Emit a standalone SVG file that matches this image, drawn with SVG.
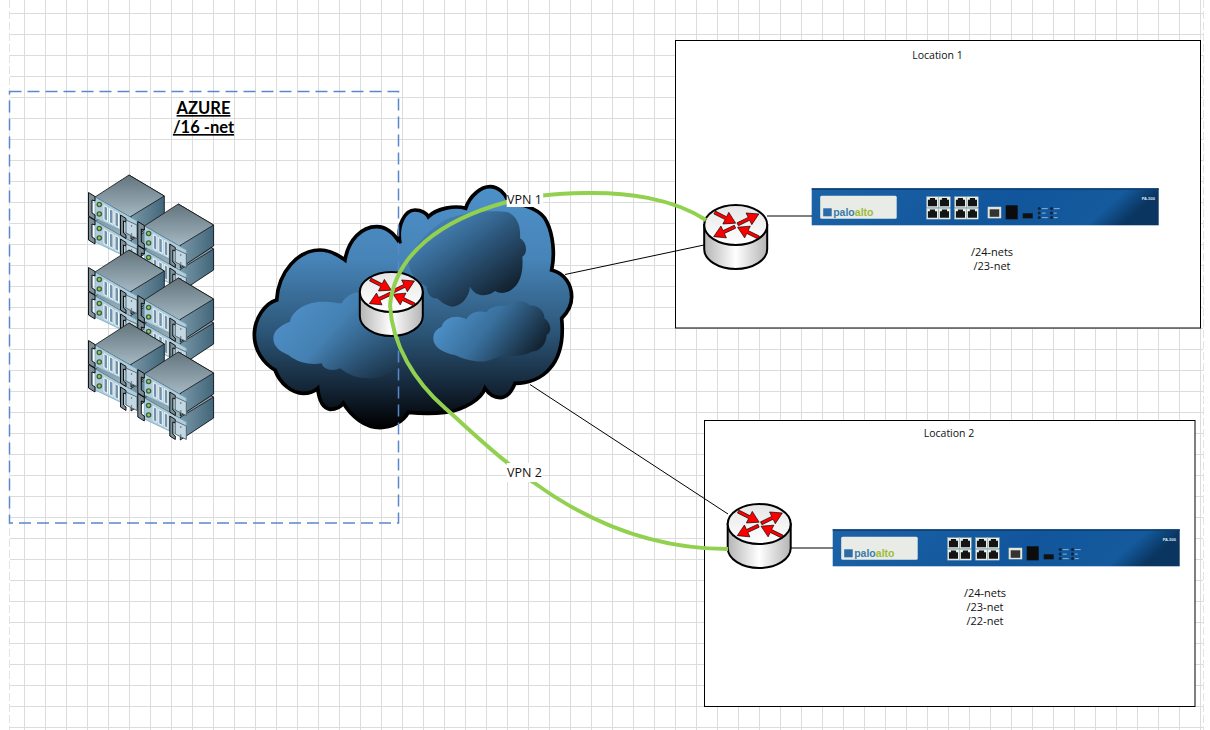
<svg xmlns="http://www.w3.org/2000/svg" xmlns:xlink="http://www.w3.org/1999/xlink" width="1210" height="730" viewBox="0 0 1210 730">
<style>
.t{font-family:"Open Sans","Noto Sans",sans-serif;fill:#111}
.box{fill:#fff;stroke:#000;stroke-width:1}
.conn{fill:none;stroke:#000;stroke-width:1}
.vpn{fill:none;stroke:#92d050;stroke-width:4}
.arrow{fill:#f00;stroke:#000;stroke-width:.6}
.az{font-family:Lato,"Liberation Sans",sans-serif;font-weight:700;font-size:16.500px;text-decoration:underline;fill:#000;text-anchor:middle}
.mid{text-anchor:middle}
</style>
<defs>
<pattern id="gv" patternUnits="userSpaceOnUse" x="24" y="0" width="21" height="21"><rect x="0" y="0" width="1" height="21" fill="#dcdcdc"/></pattern>
<pattern id="gh" patternUnits="userSpaceOnUse" x="0" y="13" width="21" height="21"><rect x="0" y="0" width="21" height="1" fill="#dcdcdc"/></pattern>
<linearGradient id="cloudG" x1="0" y1="0" x2="0" y2="1"><stop offset="0" stop-color="#4d90c8"/><stop offset=".3" stop-color="#4784b8"/><stop offset=".6" stop-color="#2c5678"/><stop offset=".82" stop-color="#16293c"/><stop offset="1" stop-color="#000"/></linearGradient>
<linearGradient id="c1" x1="0" y1=".3" x2="1" y2=".9"><stop offset="0" stop-color="#4f90c8"/><stop offset=".4" stop-color="#4480b2"/><stop offset="1" stop-color="#2c5678" stop-opacity="0"/></linearGradient>
<linearGradient id="c2" x1=".1" y1=".1" x2=".85" y2=".95"><stop offset="0" stop-color="#4784b8" stop-opacity=".6"/><stop offset=".45" stop-color="#2e5a80"/><stop offset="1" stop-color="#0e1822"/></linearGradient>
<linearGradient id="c3" x1="0" y1=".3" x2="1" y2=".7"><stop offset="0" stop-color="#5095cf"/><stop offset=".45" stop-color="#39709d"/><stop offset="1" stop-color="#0e1a26"/></linearGradient>
<linearGradient id="rSide" x1="0" y1="0" x2="1" y2="0"><stop offset="0" stop-color="#b4b4b4"/><stop offset=".5" stop-color="#fff"/><stop offset="1" stop-color="#b4b4b4"/></linearGradient>
<linearGradient id="rTop" x1="0" y1="0" x2="0" y2="1"><stop offset="0" stop-color="#e6e6e6"/><stop offset="1" stop-color="#fff"/></linearGradient>
<linearGradient id="sTop" x1="0" y1="0" x2="0" y2="1"><stop offset="0" stop-color="#63747c"/><stop offset="1" stop-color="#a5b9c4"/></linearGradient>
<linearGradient id="sSide" x1="0" y1="0" x2="1" y2="0"><stop offset="0" stop-color="#7c9aaa"/><stop offset="1" stop-color="#42667a"/></linearGradient>
<linearGradient id="pa" x1="0" y1="0" x2="1" y2=".12"><stop offset="0" stop-color="#1c62a6"/><stop offset=".6" stop-color="#11569c"/><stop offset=".9" stop-color="#145a9c"/><stop offset="1" stop-color="#0a3560"/></linearGradient>
<polygon id="arr" class="arrow" points="0,-1.600 12.500,-1.600 12.500,-6.500 23.500,0 12.500,6.500 12.500,1.600 0,1.600"/>
<g id="router">
<path d="M-31.500,0V24A31.500,20 0 0 0 31.500,24V0Z" fill="url(#rSide)" stroke="#000" stroke-width="2"/>
<ellipse cx="0" cy="0" rx="31.500" ry="20" fill="url(#rTop)" stroke="#000" stroke-width="2"/>
<use xlink:href="#arr" href="#arr" transform="translate(-21,-12.500) rotate(27)"/>
<use xlink:href="#arr" href="#arr" transform="translate(2,-.7) rotate(-26)"/>
<use xlink:href="#arr" href="#arr" transform="translate(-.7,1.700) rotate(155)"/>
<use xlink:href="#arr" href="#arr" transform="translate(23,12.500) rotate(206)"/>
</g>
<g id="unit">
<path d="M0,0L35.300,21V42L2,64V42Z" fill="url(#sSide)" stroke="#000" stroke-width=".8"/>
<path d="M0,0L35.300,21L1,42L-34,22Z" fill="url(#sTop)" stroke="#111" stroke-width=".8"/>
<path d="M-34,22L1,42L8,46V63L-34,43Z" fill="#b3ccda" stroke="#5fa6c6" stroke-width=".7"/>
<path d="M-40.500,17.500L-34,21.500V26L-37,25V38L-34,40V45L-40.500,41Z" fill="#7d8f99" stroke="#000" stroke-width=".9"/>
<path d="M-8.500,40L-3,43.500V47L-5.500,46V58L-3,60V63.500L-8.500,60Z" fill="#7d8f99" stroke="#000" stroke-width=".9"/>
<path d="M-3,45L8,50V63.500L-3,58Z" fill="#c3d8e2" stroke="#1d2d36" stroke-width=".6"/>
<circle cx="-29.700" cy="29.500" r="2.800" fill="#3d5d4a"/><circle cx="-29.700" cy="29.500" r="1.400" fill="#8fd14f"/>
<circle cx="-29.700" cy="39" r="2.800" fill="#3d5d4a"/><circle cx="-29.700" cy="39" r="1.400" fill="#8fd14f"/>
<path d="M-25,30.500l3.500,2v14l-3.500,-2zM-19.500,33.500l3.500,2v14l-3.500,-2zM-14,36.500l3.500,2v14l-3.500,-2z" fill="#6f94ab" stroke="#fff" stroke-width=".9"/>
<circle cx="2.500" cy="51" r=".7" fill="#456"/><circle cx="2.500" cy="59" r=".7" fill="#456"/>
</g>
<g id="stack"><use xlink:href="#unit" href="#unit" y="24"/><use xlink:href="#unit" href="#unit"/></g>
<g id="port"><rect width="11.500" height="10.800" fill="#e8efe8" stroke="#bcc9bc" stroke-width=".4"/><path d="M1.200,9.500V3H3.200V1.300H8.300V3H10.300V9.500Z" fill="#141414"/></g>
<g id="pa500">
<rect width="347" height="37" fill="url(#pa)"/>
<rect width="347" height="1.500" fill="#0b3d70"/>
<rect x="8.500" y="7.500" width="76.500" height="23" rx="1.500" fill="#e9ebe6"/>
<rect x="11.500" y="20" width="8.500" height="8" fill="#2b6ca8"/>
<use xlink:href="#port" href="#port" x="115" y="8.500"/><use xlink:href="#port" href="#port" x="127" y="8.500"/>
<use xlink:href="#port" href="#port" x="115" y="20"/><use xlink:href="#port" href="#port" x="127" y="20"/>
<use xlink:href="#port" href="#port" x="143" y="8.500"/><use xlink:href="#port" href="#port" x="155" y="8.500"/>
<use xlink:href="#port" href="#port" x="143" y="20"/><use xlink:href="#port" href="#port" x="155" y="20"/>
<rect x="176" y="18.500" width="13.500" height="11.500" fill="#e4e4d8"/><rect x="178" y="21" width="9.500" height="7.500" fill="#333"/>
<rect x="194" y="17" width="12" height="14" fill="#0c0c0c"/>
<rect x="211" y="25" width="10" height="5" fill="#111"/>
<g fill="#10233a"><circle cx="227.500" cy="20.300" r="1.500"/><circle cx="227.500" cy="24.700" r="1.500"/><circle cx="227.500" cy="29.300" r="1.500"/><circle cx="239.800" cy="20.300" r="1.500"/><circle cx="239.800" cy="24.700" r="1.500"/><circle cx="239.800" cy="29.300" r="1.500"/></g>
<g fill="#a9c8e4"><rect x="230" y="20" width="6" height=".8"/><rect x="230" y="24.400" width="4" height=".8"/><rect x="230" y="29" width="6" height=".8"/><rect x="242" y="20" width="6" height=".8"/><rect x="242" y="24.400" width="3" height=".8"/><rect x="242" y="29" width="4" height=".8"/></g>
</g>
</defs>

<rect width="1210" height="730" fill="#fff"/>
<g id="grid">
<rect x="10" y="0" width="1193" height="730" fill="url(#gv)"/>
<rect x="10" y="0" width="1193" height="730" fill="url(#gh)"/>
<path d="M9.500,0V730M1203.500,0V730" fill="none" stroke="#e3e3e3" stroke-width="1" stroke-dasharray="8 3"/>
</g>

<g id="servers">
<use xlink:href="#stack" href="#stack" x="129" y="175"/>
<use xlink:href="#stack" href="#stack" x="178.300" y="204"/>
<use xlink:href="#stack" href="#stack" x="129" y="250"/>
<use xlink:href="#stack" href="#stack" x="178.300" y="278"/>
<use xlink:href="#stack" href="#stack" x="129" y="323"/>
<use xlink:href="#stack" href="#stack" x="178.300" y="352"/>
</g>

<g id="cloud" transform="translate(245,175) scale(.33333)">
<path d="M95,375C100,290 160,225 225,225C255,225 280,240 300,255C310,195 350,155 395,155C425,155 450,180 465,205C455,150 480,105 510,105C530,105 545,115 550,125C575,100 630,90 662,100C675,60 710,35 735,35C760,35 780,55 790,78C840,90 890,105 905,140C925,180 930,240 920,285C960,295 980,330 980,365C980,395 965,415 950,430C955,480 950,540 915,580C890,610 850,625 810,625C800,650 785,668 765,668C745,668 730,655 720,640C710,670 660,705 600,712C560,717 520,715 490,712C475,740 440,758 405,758C360,758 320,725 295,685C285,700 270,703 255,703C235,700 222,675 218,640C205,652 190,655 175,655C140,655 105,625 90,585C55,565 28,525 28,480C28,430 60,385 95,375Z" fill="url(#cloudG)" stroke="#000" stroke-width="11"/>
<path d="M85,490C85,465 110,450 135,440C140,405 190,378 235,380C260,380 280,385 290,385C300,365 325,350 345,350C420,400 470,500 470,560C440,600 400,612 370,610C330,610 305,595 285,580C265,590 235,585 230,565C200,570 160,565 130,540C105,530 85,515 85,490Z" fill="url(#c1)"/>
<path d="M490,265C495,230 540,170 600,135C660,110 740,105 790,112C815,125 828,150 825,190C845,200 850,235 832,245C835,280 830,320 805,340C790,355 765,358 750,348C735,362 695,372 675,335C672,370 645,395 620,395C595,390 585,375 575,370C555,372 545,350 545,335C520,320 495,300 490,265Z" fill="url(#c2)"/>
<path d="M565,490C565,470 578,460 590,455C595,435 615,425 635,425C645,425 655,428 665,432C675,412 700,405 725,412C735,392 765,392 790,392C800,380 835,370 855,392C880,390 900,410 898,430C915,440 925,470 905,480C905,505 885,530 860,530C835,545 800,545 775,540C750,550 720,565 690,558C670,555 650,550 635,542C600,535 565,520 565,490Z" fill="url(#c3)"/>
</g>

<g id="azure">
<rect x="9.500" y="91.500" width="389" height="431.500" fill="none" stroke="#5b87cb" stroke-width="1.500" stroke-dasharray="12 6"/>
<text class="az" x="203.500" y="114">AZURE</text>
<text class="az" x="203.500" y="133">/16 -net</text>
</g>

<g id="location-1">
<rect class="box" x="675.500" y="40.500" width="525" height="287.500"/>
<text class="t mid" font-size="10.500" x="937.500" y="59">Location 1</text>
<text class="t mid" font-size="11" x="992" y="256">/24-nets</text>
<text class="t mid" font-size="11" x="992" y="270">/23-net</text>
</g>
<g id="location-2">
<rect class="box" x="704.500" y="420.500" width="490.500" height="286"/>
<text class="t mid" font-size="10.500" x="949" y="437">Location 2</text>
<text class="t mid" font-size="11" x="985" y="597">/24-nets</text>
<text class="t mid" font-size="11" x="985" y="611">/23-net</text>
<text class="t mid" font-size="11" x="985" y="625">/22-net</text>
</g>

<g id="firewall-1" transform="translate(811.700,188.300)">
<use xlink:href="#pa500" href="#pa500"/>
<text x="21.500" y="27.500" font-family="Liberation Sans,sans-serif" font-weight="700" font-size="10.500"><tspan fill="#3a7ca8">palo</tspan><tspan fill="#9dbb3a">alto</tspan></text>
<text x="330" y="11.500" font-family="Liberation Sans,sans-serif" font-weight="700" font-size="4" fill="#dfe8f2">PA-500</text>
</g>
<g id="firewall-2" transform="translate(832.700,529.300)">
<use xlink:href="#pa500" href="#pa500"/>
<text x="21.500" y="27.500" font-family="Liberation Sans,sans-serif" font-weight="700" font-size="10.500"><tspan fill="#3a7ca8">palo</tspan><tspan fill="#9dbb3a">alto</tspan></text>
<text x="330" y="11.500" font-family="Liberation Sans,sans-serif" font-weight="700" font-size="4" fill="#dfe8f2">PA-500</text>
</g>

<g id="router-cloud"><use xlink:href="#router" href="#router" x="391.300" y="292"/></g>
<g id="router-1"><use xlink:href="#router" href="#router" x="735.700" y="225"/></g>
<g id="router-2"><use xlink:href="#router" href="#router" x="759.200" y="524"/></g>

<g id="connectors">
<path class="conn" d="M767,216H812"/>
<path class="conn" d="M790,548H833"/>
<path class="conn" d="M565,274.500L704,245"/>
<path class="conn" d="M530,384.500L728,514"/>
<path class="vpn" d="M706,220C672,198 625,192 585,193C555,193.500 530,196 507,202C440,220 395,255 390,305"/>
<path class="vpn" d="M390,305C392,345 415,382 445,408C470,430 500,460 533,482C585,520 650,549 728,549"/>
<rect x="506.700" y="193" width="36.500" height="14" fill="#fff"/>
<text class="t" font-size="12.500" x="507" y="204">VPN 1</text>
<rect x="506.700" y="463" width="35.500" height="19" fill="#fff"/>
<text class="t" font-size="12.500" x="507" y="477">VPN 2</text>
</g>
</svg>
